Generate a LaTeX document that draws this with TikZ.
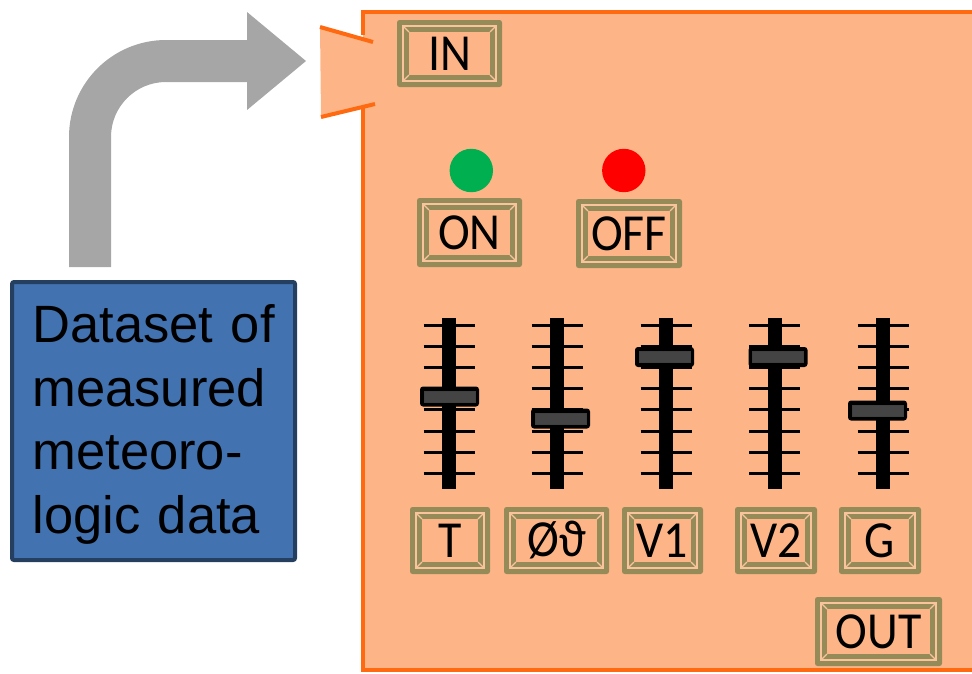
\documentclass[tikz,border=0pt]{standalone}
\usepackage{fontspec}
\setmainfont{Liberation Sans}
\newfontfamily\btnfont[FakeStretch=0.92]{Carlito}
\definecolor{bgor}{HTML}{FDB587}
\definecolor{edgeor}{HTML}{FF6A10}
\definecolor{olivebtn}{HTML}{958B58}
\definecolor{lightor}{HTML}{F9C49C}
\definecolor{arrowgray}{HTML}{A6A6A6}
\definecolor{boxblue}{HTML}{4272AF}
\definecolor{boxnavy}{HTML}{243F60}
\definecolor{knobgray}{HTML}{444444}
\definecolor{ledgreen}{HTML}{00B050}
\definecolor{ledred}{HTML}{FF0000}
\newcommand\lineindent{\hspace*{7pt}}
\begin{document}
\begin{tikzpicture}[x=1pt,y=-1pt,
  btn/.style={fill=olivebtn, rounded corners=2.5pt, inner sep=0pt,
    font=\btnfont\fontsize{52}{52}\selectfont,
    path picture={
      \begin{scope}[sharp corners]
      \path (path picture bounding box.north west) coordinate (p1)
            (path picture bounding box.south east) coordinate (p2);
      \path (p1 -| p2) coordinate (p3) (p1 |- p2) coordinate (p4);
      \fill[bgor] ([shift={(12pt,-12pt)}]p1) rectangle ([shift={(-12pt,12pt)}]p2);
      \draw[lightor, line width=1.3pt] ([shift={(6pt,-6pt)}]p1) rectangle ([shift={(-6pt,6pt)}]p2);
      \draw[lightor, line width=1.3pt]
        ([shift={(6pt,-6pt)}]p1) -- ([shift={(12pt,-12pt)}]p1)
        ([shift={(-6pt,-6pt)}]p3) -- ([shift={(-12pt,-12pt)}]p3)
        ([shift={(-6pt,6pt)}]p2) -- ([shift={(-12pt,12pt)}]p2)
        ([shift={(6pt,6pt)}]p4) -- ([shift={(12pt,12pt)}]p4);
      \end{scope}
    }},
  bluebox/.style={draw=boxnavy, line width=4pt, fill=boxblue, rounded corners=2pt,
    minimum width=283pt, minimum height=278pt, text width=256pt, align=left,
    inner sep=0pt, font=\fontsize{52.5}{63.5}\selectfont},
  led/.style={circle, inner sep=0pt, minimum size=43.4pt},
  edge/.style={edgeor, line width=4pt},
  track/.style={fill=black},
  tick/.style={line width=3.3pt},
  knob/.style={fill=black, rounded corners=3pt},
  knobin/.style={fill=knobgray, draw=black!75, line width=0.8pt}
]
\useasboundingbox (0,0) rectangle (972,673);
% grey bent arrow
\fill[arrowgray] (69,267) -- (69,137) arc[start angle=180,end angle=270,radius=97]
  -- (247,40) -- (247,12) -- (306,61) -- (247,110) -- (247,82) -- (166,82)
  arc[start angle=270,end angle=180,radius=55] -- (111,267) -- cycle;
% blue dataset box
\node[bluebox] (data) at (153.5,421) {\rule{0pt}{45pt}\lineindent Dataset of\\\lineindent measured\\\lineindent meteoro-\\\lineindent logic data};
% orange device box
\fill[bgor] (363,12) rectangle (980,670);
\fill[bgor] (320,26) -- (365,39) -- (365,106) -- (321,117) -- cycle;
\draw[edge] (363,35) -- (363,12) -- (980,12);
\draw[edge] (363,107) -- (363,670) -- (980,670);
\draw[edge] (320,27) -- (373,42);
\draw[edge] (321,117) -- (375,104);
% buttons
\node[btn, minimum width=105pt, minimum height=67pt] (in) at (449.5,53.5) {IN};
\node[btn, minimum width=105pt, minimum height=69pt] (on) at (469.5,232.5) {ON};
\node[btn, minimum width=106pt, minimum height=69pt] (off) at (629,233.5) {OFF};
\node[btn, minimum width=80pt, minimum height=67pt] (t) at (450,540.5) {T};
\node[btn, minimum width=105pt, minimum height=67pt] (phi) at (556.5,540.5) {Øϑ};
\node[btn, minimum width=81pt, minimum height=67pt] (v1) at (662.5,540.5) {V1};
\node[btn, minimum width=82pt, minimum height=67pt] (v2) at (776,540.5) {V2};
\node[btn, minimum width=82pt, minimum height=67pt] (g) at (880,540.5) {G};
\node[btn, minimum width=127pt, minimum height=69pt] (out) at (878.5,631.5) {OUT};
% LEDs
\node[led, fill=ledgreen] (ledon) at (471.3,170.5) {};
\node[led, fill=ledred] (ledoff) at (623.8,170.5) {};
% sliders
\foreach \tx/\kx/\ky in {449/449.5/396.5, 557/560.5/418.5, 666/664.5/357, 774.5/778/357, 883/877.5/410.5} {
  \fill[track] (\tx-7,318) rectangle (\tx+7,489);
  \foreach \ty in {325.3,346.3,367.3,388.3,409.3,431.3,452.3,473.3}
    \draw[tick] (\tx-25.5,\ty) -- (\tx+25.5,\ty);
  \fill[knob] (\kx-29.5,\ky-10) rectangle (\kx+29.5,\ky+10);
  \filldraw[knobin] (\kx-25.5,\ky-5.5) rectangle (\kx+25.5,\ky+5.5);
}
\end{tikzpicture}
\end{document}
